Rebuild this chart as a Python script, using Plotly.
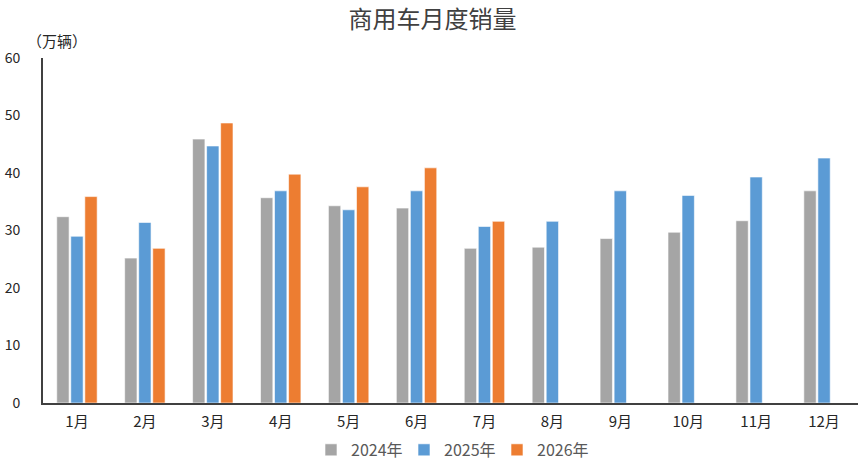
import plotly.graph_objects as go

months = ["1月", "2月", "3月", "4月", "5月", "6月", "7月", "8月", "9月", "10月", "11月", "12月"]
sales_2024 = [32.4, 25.2, 45.9, 35.7, 34.3, 33.9, 26.9, 27.1, 28.6, 29.7, 31.7, 36.9]
sales_2025 = [29.0, 31.4, 44.7, 36.9, 33.6, 36.9, 30.7, 31.6, 36.9, 36.1, 39.3, 42.6]
sales_2026 = [35.9, 26.9, 48.7, 39.8, 37.6, 40.9, 31.6]

series = [
    ("2024年", sales_2024, "#A5A5A5"),
    ("2025年", sales_2025, "#5B9BD5"),
    ("2026年", sales_2026, "#ED7D31"),
]

FONT = "Noto Sans CJK SC"

fig = go.Figure()
for name, values, color in series:
    fig.add_trace(
        go.Bar(
            x=months[: len(values)],
            y=values,
            name=name,
            marker=dict(color=color, line=dict(color="rgba(255,255,255,0.6)", width=1)),
        )
    )

fig.update_layout(
    width=865,
    height=464,
    paper_bgcolor="white",
    plot_bgcolor="white",
    barmode="group",
    bargap=0.38,
    bargroupgap=0.12,
    font=dict(family=FONT, color="#404040", size=14),
    title=dict(
        text="商用车月度销量",
        x=0.5,
        xanchor="center",
        y=0.957,
        yanchor="middle",
        font=dict(size=24, color="#404040", family=FONT),
    ),
    margin=dict(l=43, r=7, t=58, b=61, autoexpand=False),
    showlegend=True,
    legend=dict(
        orientation="h",
        x=0.5,
        xanchor="center",
        y=-0.136,
        yanchor="middle",
        font=dict(size=16, color="#595959"),
        itemwidth=30,
        entrywidth=48,
        traceorder="normal",
    ),
    xaxis=dict(
        categoryorder="array",
        categoryarray=months,
        showline=True,
        linecolor="#404040",
        linewidth=2,
        ticks="",
        showgrid=False,
        ticklabelstandoff=4,
        tickfont=dict(size=15, color="#262626"),
    ),
    yaxis=dict(
        range=[0, 60],
        dtick=10,
        showline=True,
        linecolor="#404040",
        linewidth=2,
        showgrid=False,
        zeroline=False,
        ticks="",
        ticklabelstandoff=18,
        tickfont=dict(size=14, color="#262626"),
    ),
    annotations=[
        dict(
            text="（万辆）",
            xref="paper",
            yref="paper",
            x=-0.022,
            y=1.015,
            xanchor="left",
            yanchor="bottom",
            showarrow=False,
            font=dict(size=15, color="#262626"),
        )
    ],
)

# drop the browser's default 8px body margin so the chart sits flush in the window
fig.write_html(
    "out.html",
    config={"displayModeBar": False},
    post_script="document.body.style.margin = '0';",
)
